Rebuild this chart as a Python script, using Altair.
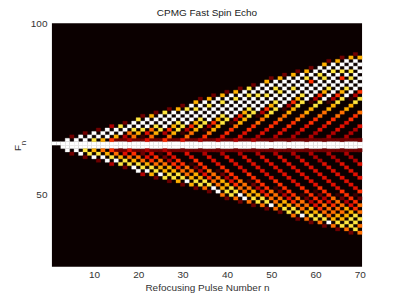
import altair as alt
import pandas as pd

# Bright band, two rows, n = 1..70
band_65 = "9999999999999999999999999999999999999999999999999999999999999999999999"
band_64 = "0099999999999999999999999999999999999999999999999999999999999999999999"
# Faint rows just above and below the band
halo_66 = "0000000000000222222222222222222222222222222222222222222222222222222222"
halo_63 = "0000000000000222222222222222222222222222222222222222222222222222222222"

# Upper half: diagonal number -> values going up and right from the band
upper = {
    3: "92", 5: "992", 7: "9992", 9: "89993", 11: "799982", 13: "57999982",
    15: "036899972", 17: "3678999982", 19: "01468999972", 21: "4678999998972",
    23: "00357899989972", 25: "567889999989972", 27: "0013578999989972",
    29: "46678899999989982", 31: "0001357899999899972",
    33: "35677889999998999972", 35: "000001357899989899972",
    37: "3455677889999989999972", 39: "000000013578999899899972",
    41: "3445566788999999959899972", 43: "00000000013578999989899972",
    45: "3344556677889999999989997", 47: "00000000000135789959899",
    49: "234455667788999999899", 51: "0000000000013578999",
    53: "23344556677889999", 55: "000000000000135",
    57: "2334455667788", 59: "00000000000",
    61: "233444556", 63: "0000000", 65: "23334", 67: "000", 69: "2",
}

# Lower half: diagonal number -> values going down and right from the band
lower = {
    3: "92", 5: "992", 7: "8892", 9: "78993", 11: "678982", 13: "56788993",
    15: "246788972", 17: "4566788982", 19: "02456778872", 21: "345667788972",
    23: "0123556678862", 25: "344556677889962", 27: "0000123456678862",
    29: "24455566677889962", 31: "000000123456678862",
    33: "2344455556667788962", 35: "000000000123456678862",
    37: "2344444555556667788962", 39: "00000000000123456678862",
    41: "234444444555556667788962", 43: "0000000000000123456678862",
    45: "2344444444455555666778886", 47: "00000000000012345667886",
    49: "234444444445556667788", 51: "0000000000000123456",
    53: "23344444444455556", 55: "000000000000012",
    57: "2333444444445", 59: "00000000000",
    61: "233344444", 63: "0000000", 65: "23334", 67: "000", 69: "2",
}

level_colors = ["#0b0000", "#3c0000", "#700000", "#b00000", "#e01000",
                "#ff3000", "#ff7000", "#ffb000", "#ffe640", "#ffffff"]

title_text = "CPMG Fast Spin Echo"
x_title = "Refocusing Pulse Number n"
x_ticks = [10, 20, 30, 40, 50, 60, 70]
y_ticks = [50, 100]

rows = []
for F, line in [(66, halo_66), (63, halo_63), (65, band_65), (64, band_64)]:
    for i, ch in enumerate(line):
        rows.append({"n": i + 1, "F": F, "v": int(ch)})
for d, vals in upper.items():
    for k, ch in enumerate(vals, start=1):
        if d + k <= 70 and int(ch) > 0:
            rows.append({"n": d + k, "F": 65 + k, "v": int(ch)})
for d, vals in lower.items():
    for k, ch in enumerate(vals, start=1):
        if d + k <= 70 and int(ch) > 0:
            rows.append({"n": d + k, "F": 64 - k, "v": int(ch)})
df = pd.DataFrame(rows)
df = df[df.v > 0].reset_index(drop=True)
df["order"] = df.index
df["x0"], df["x1"] = df.n - 0.5, df.n + 0.5
df["y0"], df["y1"] = df.F - 0.5, df.F + 0.5

FONT = "Liberation Sans"
xs = alt.Scale(domain=[0.5, 70.5], nice=False, zero=False)
ys = alt.Scale(domain=[29.07, 100], nice=False, zero=False)
cs = alt.Scale(domain=list(range(10)), range=level_colors)

cells = alt.Chart(df).mark_rect(strokeWidth=0.3).encode(
    x=alt.X("x0:Q", scale=xs, axis=alt.Axis(
        values=x_ticks, title=x_title, grid=False, domain=False, tickSize=0,
        labelPadding=3, titlePadding=3, labelFont=FONT, titleFont=FONT,
        labelFontSize=10, titleFontSize=10, titleFontWeight="normal",
        labelColor="#333333", titleColor="#333333", format="d")),
    x2="x1:Q",
    y=alt.Y("y0:Q", scale=ys, axis=alt.Axis(
        values=y_ticks, title=None, grid=False, domain=False, tickSize=0,
        labelPadding=5, labelFont=FONT, labelFontSize=10,
        labelColor="#333333", format="d")),
    y2="y1:Q",
    color=alt.Color("v:O", legend=None, scale=cs),
    stroke=alt.Stroke("v:O", legend=None, scale=cs),
    order=alt.Order("order:Q"),
)

f_label = alt.Chart(pd.DataFrame({"t": ["F"]})).mark_text(
    angle=270, font=FONT, fontSize=10, color="#333333", clip=False
).encode(x=alt.value(-34), y=alt.value(125), text="t:N")
n_label = alt.Chart(pd.DataFrame({"t": ["n"]})).mark_text(
    angle=270, font=FONT, fontSize=8, color="#333333", clip=False
).encode(x=alt.value(-28), y=alt.value(120), text="t:N")

chart = (cells + f_label + n_label).properties(
    width=310.7, height=244,
    title=alt.TitleParams(title_text, font=FONT, fontSize=10, fontWeight="normal",
                          color="#222222", offset=0, anchor="middle"),
    autosize=alt.AutoSizeParams(type="none"),
    padding={"left": 44, "top": 15, "right": 30, "bottom": 28},
    background="white",
).configure_view(fill="#0b0000", stroke=None)

chart.save("out.html", embed_options={"renderer": "svg", "actions": False})
